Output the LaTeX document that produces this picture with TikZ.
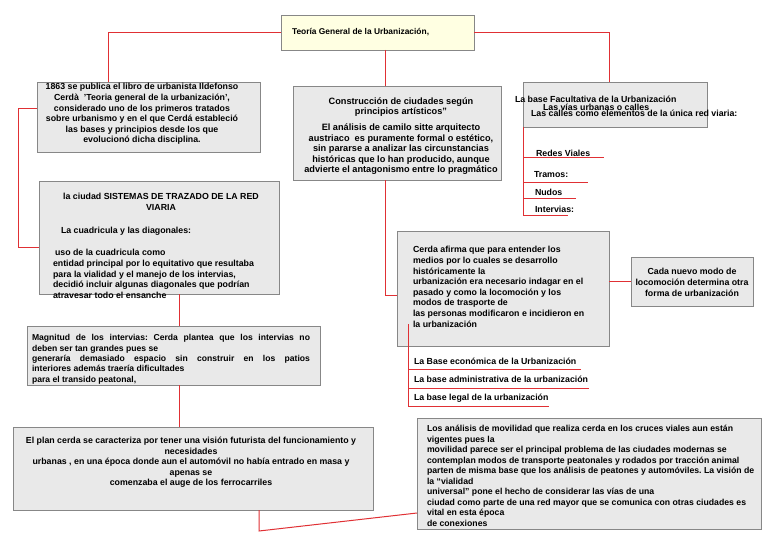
\documentclass[tikz,border=0pt]{standalone}
\usepackage{fontspec}
\setmainfont{Liberation Sans}
\definecolor{lnred}{RGB}{224,48,52}
\definecolor{boxfill}{RGB}{233,233,233}
\definecolor{boxline}{RGB}{135,135,135}
\definecolor{titlefill}{RGB}{255,255,226}
\begin{document}
\frenchspacing
\begin{tikzpicture}[x=1pt,y=-1pt,
  cbox/.style={draw=boxline, fill=boxfill, line width=0.9pt, inner sep=0pt, outer sep=0pt, anchor=north west, rectangle},
  conn/.style={draw=lnred, line width=1pt},
  txt/.style={inner sep=0pt, outer sep=0pt, font=\fontsize{8.8}{10.6}\selectfont\bfseries, text=black}
]
\useasboundingbox[fill=white] (0,0) rectangle (768,543);

% boxes
\node[cbox, fill=titlefill, minimum width=193pt, minimum height=35pt] (title) at (281,15) {};
\node[cbox, minimum width=223pt, minimum height=70pt] (b1863) at (37,82) {};
\node[cbox, minimum width=208pt, minimum height=94pt] (bcons) at (293,86) {};
\node[cbox, minimum width=184pt, minimum height=45pt] (bfac) at (523,82) {};
\node[cbox, minimum width=240pt, minimum height=113pt] (bcity) at (39,181) {};
\node[cbox, minimum width=212pt, minimum height=115pt] (bcerda) at (397,231) {};
\node[cbox, minimum width=122pt, minimum height=49pt] (bloc) at (631,257) {};
\node[cbox, minimum width=293pt, minimum height=59pt] (bmag) at (27,326) {};
\node[cbox, minimum width=360pt, minimum height=83pt] (bplan) at (13,427) {};
\node[cbox, minimum width=344pt, minimum height=111pt] (bmov) at (417,418) {};

% connectors
\draw[conn] (title.west) -| ([xshift=71pt]b1863.north west);
\draw[conn] ([xshift=104pt]title.south west) -- ([xshift=92pt]bcons.north west);
\draw[conn] (title.east) -| ([xshift=86pt]bfac.north west);
\draw[conn] ([yshift=-26pt]b1863.north west) -- ++(-19,0) |- ([yshift=-66pt]bcity.north west);
\draw[conn] ([xshift=140pt]bcity.south west) -- ([xshift=152pt]bmag.north west);
\draw[conn] ([xshift=152pt]bmag.south west) -- ([xshift=166pt]bplan.north west);
\draw[conn] ([xshift=246pt]bplan.south west) -- ++(0,21) -- ([yshift=-95pt]bmov.north west);
\draw[conn] ([xshift=92pt]bcons.south west) |- ([yshift=-64pt]bcerda.north west);
\draw[conn] (bloc.west) -- (bloc.west -| bcerda.east);

% right list
\coordinate (fs) at (bfac.south west);
\coordinate (fe) at (523,215);
\draw[conn] (fs) -- (fe);
\coordinate (r1) at (604,157);
\coordinate (r2) at (588,182);
\coordinate (r3) at (576,198);
\coordinate (r4) at (568,215);
\foreach \r in {r1,r2,r3,r4} \draw[conn] (\r -| fs) -- (\r);

% bases list
\coordinate (bs) at (408,324);
\coordinate (be) at (408,406);
\draw[conn] (bs) -- (be);
\coordinate (u1) at (581,369);
\coordinate (u2) at (589,388);
\coordinate (u3) at (549,406);
\foreach \u in {u1,u2,u3} \draw[conn] (\u -| bs) -- (\u);

% texts
\node[txt, anchor=west, font=\fontsize{8.4}{10.6}\selectfont\bfseries] (ttitle) at (292,32.5) {Teoría General de la Urbanización,};

\node[txt, anchor=north, align=center] (t1863) at (142,83.5) {1863 se publica el libro de urbanista Ildefonso\\
Cerdà\ \ 'Teoria general de la urbanización',\\
considerado uno de los primeros tratados\\
sobre urbanismo y en el que Cerdá estableció\\
las bases y principios desde los que\\
evolucionó dicha disciplina.};

\node[txt, anchor=north, align=center, font=\fontsize{9.2}{10.6}\selectfont\bfseries] (tcons) at (401,97.5) {Construcción de ciudades según\\
principios artísticos”\\[5pt]
El análisis de camilo sitte arquitecto\\
austriaco\ \ es puramente formal o estético,\\
sin pararse a analizar las circunstancias\\
históricas que lo han producido, aunque\\
advierte el antagonismo entre lo pragmático};

\node[txt, anchor=west] (tfac1) at (515,99) {La base Facultativa de la Urbanización};
\node[txt, anchor=west] (tfac2) at (543,107) {Las vías urbanas o calles};
\node[txt, anchor=west] (tfac3) at (531,113) {Las calles como elementos de la única red viaria:};

\node[txt, anchor=west] (tredes) at (536,153) {Redes Viales};
\node[txt, anchor=west] (ttramos) at (534,175) {Tramos:};
\node[txt, anchor=west] (tnudos) at (535,192) {Nudos};
\node[txt, anchor=west] (tinter) at (535,209) {Intervias:};

\node[txt, anchor=north, align=center] (tcity1) at (161,193.5) {la ciudad SISTEMAS DE TRAZADO DE LA RED\\VIARIA};
\node[txt, anchor=west] (tcity2) at (61,231) {La cuadricula y las diagonales:};
\node[txt, anchor=north west, align=left] (tcity3) at (53,249.5) {\hspace{2pt}uso de la cuadricula como\\
entidad principal por lo equitativo que resultaba\\
para la vialidad y el manejo de los intervias,\\
decidió incluir algunas diagonales que podrían\\
atravesar todo el ensanche};

\node[txt, anchor=north west, align=left, font=\fontsize{8.6}{10.4}\selectfont\bfseries] (tmag) at (32,334.5) {\makebox[278pt][s]{Magnitud de los intervias: Cerda plantea que los intervias no}\\
deben ser tan grandes pues se\\
\makebox[278pt][s]{generaría demasiado espacio sin construir en los patios}\\
interiores además traería dificultades\\
para el transido peatonal,};

\node[txt, anchor=north, align=center] (tplan) at (191,437) {El plan cerda se caracteriza por tener una visión futurista del funcionamiento y\\
necesidades\\
urbanas , en una época donde aun el automóvil no había entrado en masa y\\
apenas se\\
comenzaba el auge de los ferrocarriles};

\node[txt, anchor=north west, align=left] (tcerda) at (413,246.5) {Cerda afirma que para entender los\\
medios por lo cuales se desarrollo\\
históricamente la\\
urbanización era necesario indagar en el\\
pasado y como la locomoción y los\\
modos de trasporte de\\
las personas modificaron e incidieron en\\
la urbanización};

\node[txt, anchor=north, align=center] (tloc) at (692,268.5) {Cada nuevo modo de\\
locomoción determina otra\\
forma de urbanización};

\node[txt, anchor=west] (tb1) at (414,361) {La Base económica de la Urbanización};
\node[txt, anchor=west] (tb2) at (414,379) {La base administrativa de la urbanización};
\node[txt, anchor=west] (tb3) at (414,398) {La base legal de la urbanización};

\node[txt, anchor=north west, align=left, font=\fontsize{8.7}{10.5}\selectfont\bfseries] (tmov) at (427,425.5) {Los análisis de movilidad que realiza cerda en los cruces viales aun están\\
vigentes pues la\\
movilidad parece ser el principal problema de las ciudades modernas se\\
contemplan modos de transporte peatonales y rodados por tracción animal\\
parten de misma base que los análisis de peatones y automóviles. La visión de\\
la “vialidad\\
universal” pone el hecho de considerar las vías de una\\
ciudad como parte de una red mayor que se comunica con otras ciudades es\\
vital en esta época\\
de conexiones};
\end{tikzpicture}
\end{document}
